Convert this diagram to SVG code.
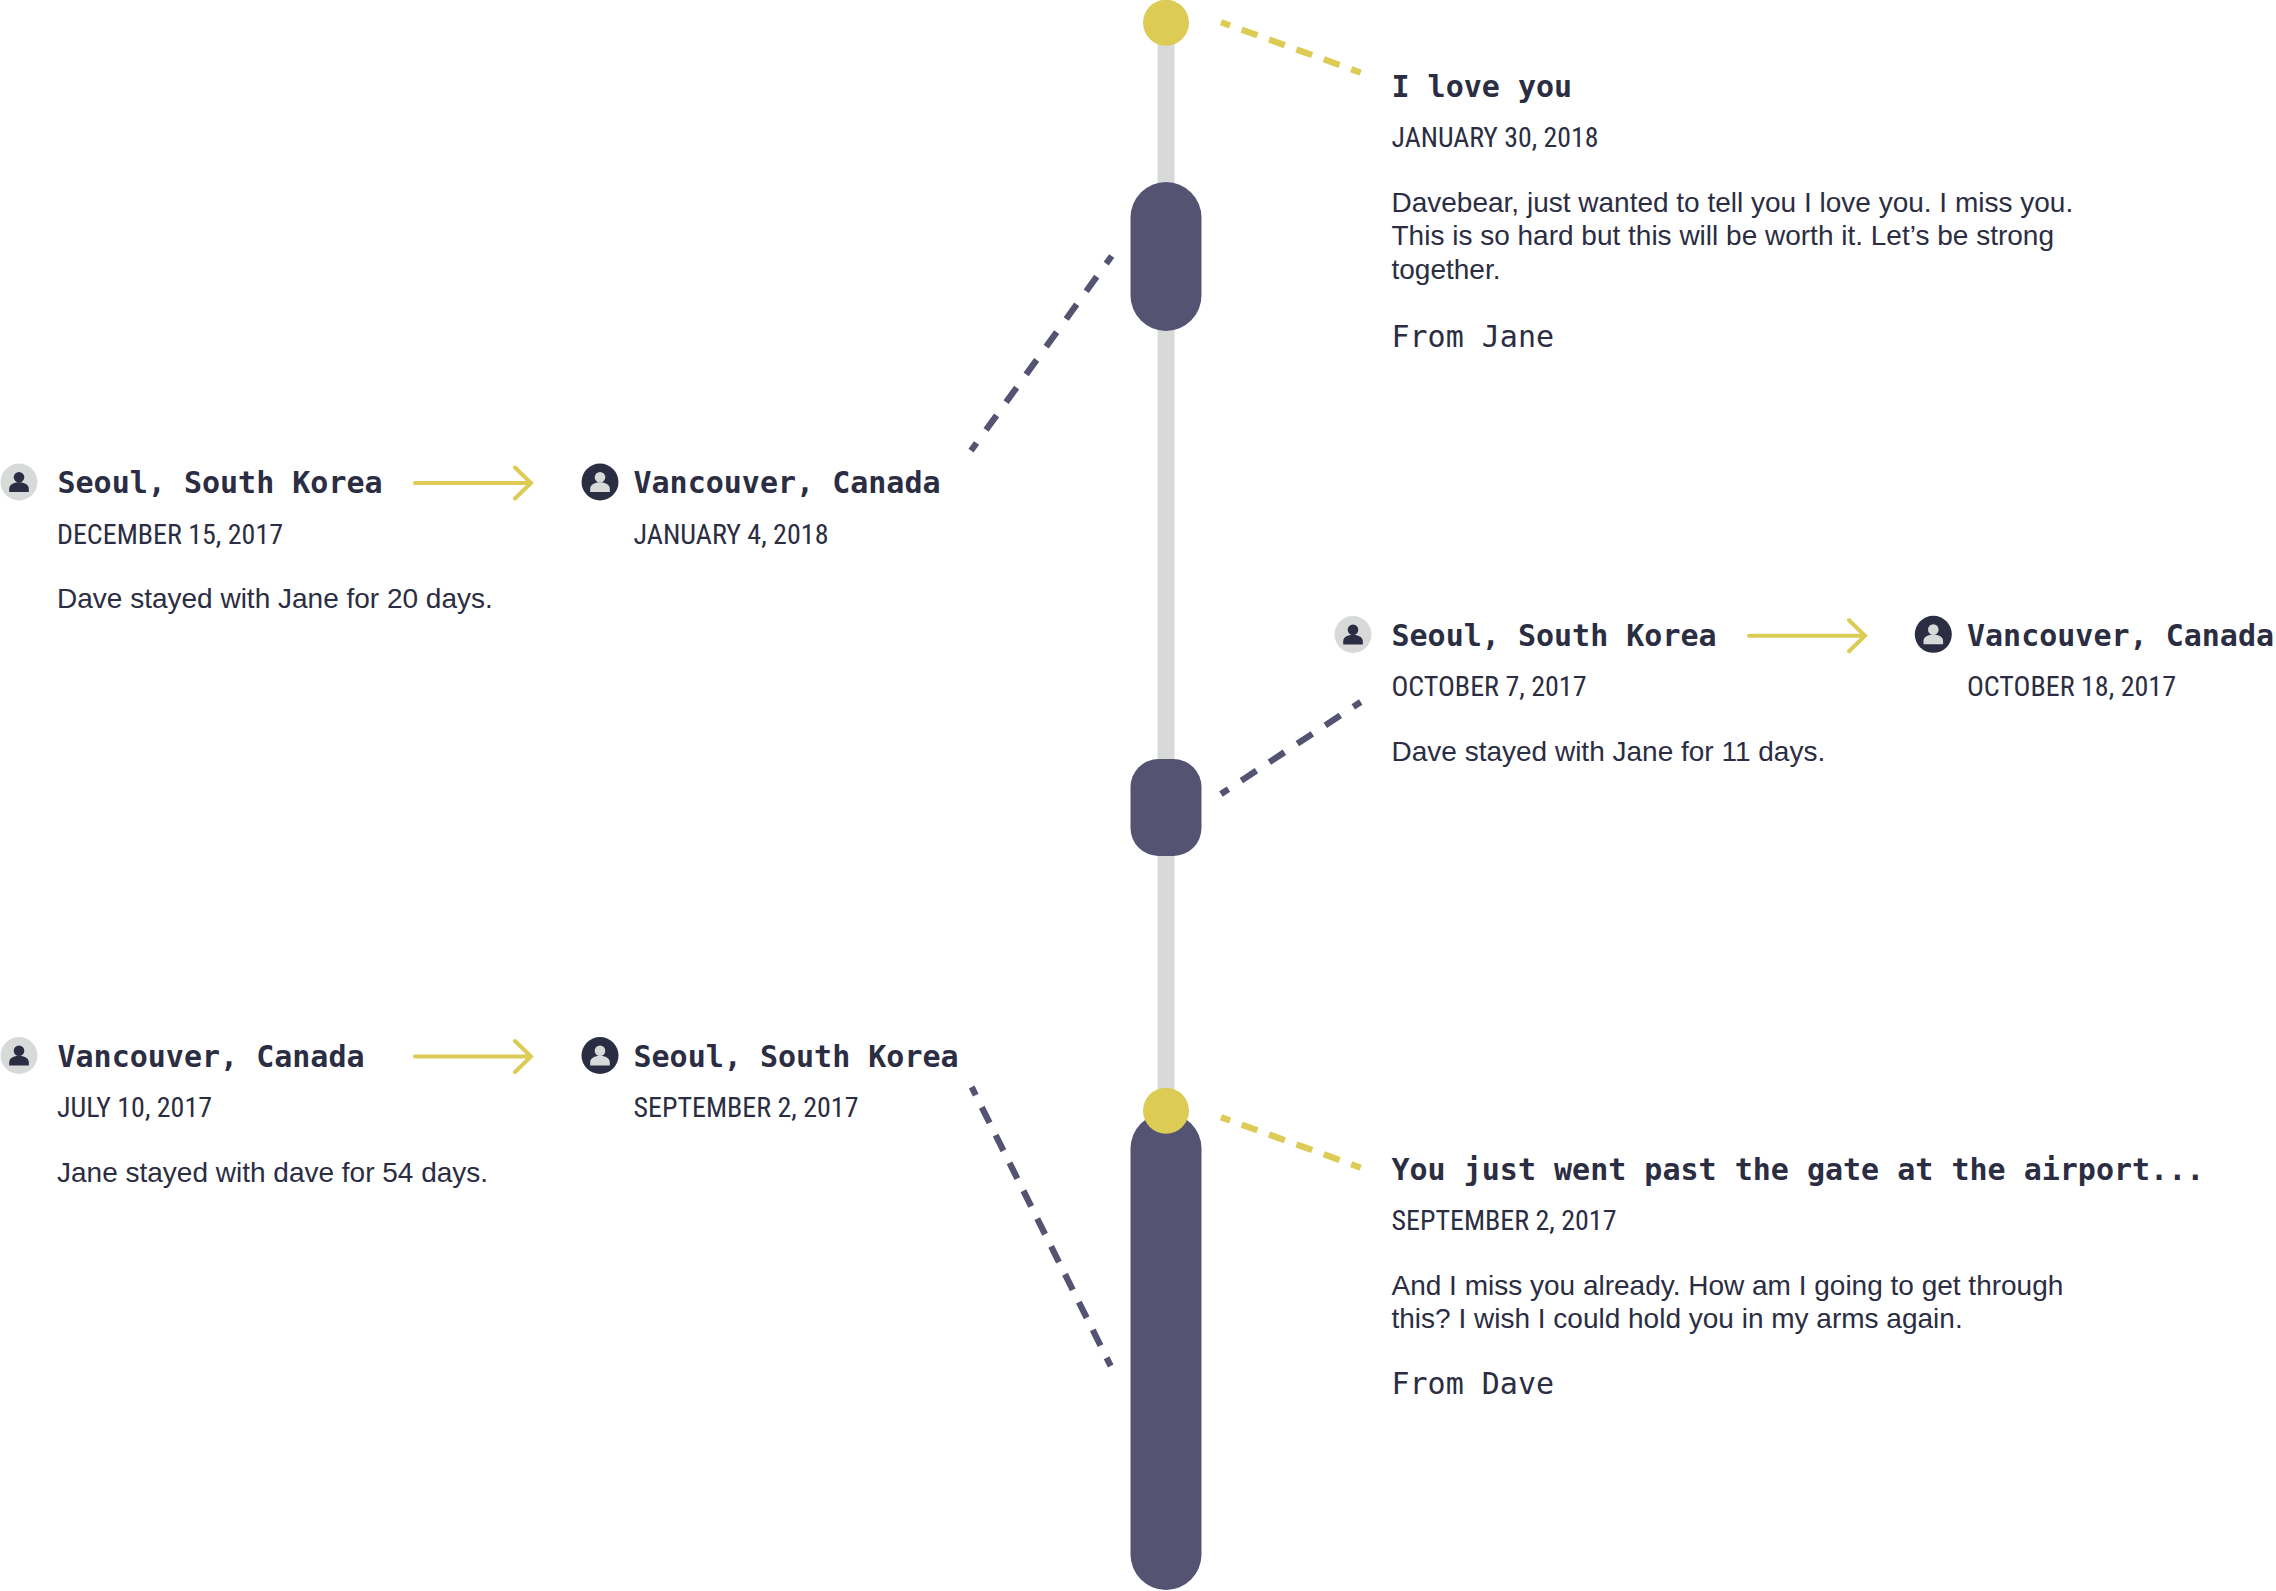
<svg xmlns="http://www.w3.org/2000/svg" width="2276" height="1591" viewBox="0 0 2276 1591">
<style>
text{fill:#2b2d42}
.t{font:700 30px "DejaVu Sans Mono",monospace}
.d{font:400 27px "Roboto Condensed",Roboto,sans-serif}
.b{font:400 28px "Liberation Sans",Arial,sans-serif}
.f{font:400 30px "DejaVu Sans Mono",monospace}
.rail{fill:#d8dad9}
.pill{fill:#545472}
.sun{fill:#dccc55}
.dy{stroke:#dccc55;stroke-width:6.3;fill:none;stroke-dasharray:16.7 12.4;stroke-dashoffset:7.1}
.dp{stroke:#545472;stroke-width:6.3;fill:none}
.ar{stroke:#dccc55;stroke-width:4;fill:none;stroke-linecap:round;stroke-miterlimit:10}
.cl{fill:#d8dad9}.cd{fill:#2b2d42}
.il{fill:#2b2d42}.id{fill:#d8dad9}
</style>
<defs>
<g id="person"><circle cx="0" cy="-4.7" r="5.3"/><path d="M-9.8 10V6.8C-9.8 2.5-5 .3 0 .3S9.8 2.5 9.8 6.8V10Z"/></g>
<g id="arrow"><path class="ar" d="M1 0H117M101-15.5L117 0L101 15.5"/></g>
</defs>
<g id="timeline">
<rect class="rail" x="1157.5" y="20" width="17" height="1100"/>
<rect class="pill" x="1130.5" y="182" width="71" height="149" rx="35.5"/>
<rect class="pill" x="1130.5" y="759" width="71" height="97" rx="28"/>
<rect class="pill" x="1130.5" y="1113" width="71" height="477" rx="35.5"/>
<circle class="sun" cx="1166" cy="22.7" r="23"/>
<circle class="sun" cx="1166" cy="1110.7" r="23"/>
</g>
<g id="connectors">
<path class="dy" d="M1221 22.2L1360.7 72.6"/>
<path class="dy" d="M1221 1117.2L1360.7 1167.6"/>
<path class="dp" stroke-dasharray="18 16.2" stroke-dashoffset="8.5" d="M971 450.7L1111.7 256"/>
<path class="dp" stroke-dasharray="18 15.5" stroke-dashoffset="9.1" d="M1221 794L1360.7 702"/>
<path class="dp" stroke-dasharray="17.5 13.6" stroke-dashoffset="8.5" d="M971.7 1087L1110.7 1366"/>
<use href="#arrow" x="414" y="483"/>
<use href="#arrow" x="1748" y="635.7"/>
<use href="#arrow" x="414" y="1056.5"/>
</g>
<g id="note-love">
<text class="t" x="1391.5" y="97">I love you</text>
<text class="d" x="1391.5" y="146.7" textLength="207" lengthAdjust="spacingAndGlyphs">JANUARY 30, 2018</text>
<text class="b" x="1391.5" y="212">Davebear, just wanted to tell you I love you. I miss you.</text>
<text class="b" x="1391.5" y="245.3">This is so hard but this will be worth it. Let’s be strong</text>
<text class="b" x="1391.5" y="278.6">together.</text>
<text class="f" x="1391.5" y="347">From Jane</text>
</g>
<g id="trip-dec">
<circle class="cl" cx="19" cy="482" r="18.5"/><use href="#person" class="il" x="19" y="482"/>
<text class="t" x="57.5" y="493">Seoul, South Korea</text>
<text class="d" x="57" y="544" textLength="226" lengthAdjust="spacingAndGlyphs">DECEMBER 15, 2017</text>
<text class="b" x="57" y="608">Dave stayed with Jane for 20 days.</text>
</g>
<g id="trip-jan">
<circle class="cd" cx="600" cy="482" r="18.5"/><use href="#person" class="id" x="600" y="482"/>
<text class="t" x="633.5" y="493">Vancouver, Canada</text>
<text class="d" x="633.5" y="544" textLength="195" lengthAdjust="spacingAndGlyphs">JANUARY 4, 2018</text>
</g>
<g id="trip-oct">
<circle class="cl" cx="1353" cy="634.5" r="18.5"/><use href="#person" class="il" x="1353" y="634.5"/>
<text class="t" x="1391.5" y="646">Seoul, South Korea</text>
<text class="d" x="1391.5" y="696" textLength="195" lengthAdjust="spacingAndGlyphs">OCTOBER 7, 2017</text>
<text class="b" x="1391.5" y="761">Dave stayed with Jane for 11 days.</text>
</g>
<g id="trip-oct-b">
<circle class="cd" cx="1933.3" cy="634.3" r="18.5"/><use href="#person" class="id" x="1933.3" y="634.3"/>
<text class="t" x="1967" y="646">Vancouver, Canada</text>
<text class="d" x="1967" y="696" textLength="209" lengthAdjust="spacingAndGlyphs">OCTOBER 18, 2017</text>
</g>
<g id="trip-jul">
<circle class="cl" cx="19" cy="1055.5" r="18.5"/><use href="#person" class="il" x="19" y="1055.5"/>
<text class="t" x="57.5" y="1066.5">Vancouver, Canada</text>
<text class="d" x="57" y="1117" textLength="155" lengthAdjust="spacingAndGlyphs">JULY 10, 2017</text>
<text class="b" x="57" y="1181.5">Jane stayed with dave for 54 days.</text>
</g>
<g id="trip-sep">
<circle class="cd" cx="600" cy="1055.5" r="18.5"/><use href="#person" class="id" x="600" y="1055.5"/>
<text class="t" x="633.5" y="1066.5">Seoul, South Korea</text>
<text class="d" x="633.5" y="1117" textLength="225" lengthAdjust="spacingAndGlyphs">SEPTEMBER 2, 2017</text>
</g>
<g id="note-gate">
<text class="t" x="1391.5" y="1180">You just went past the gate at the airport...</text>
<text class="d" x="1391.5" y="1230" textLength="225" lengthAdjust="spacingAndGlyphs">SEPTEMBER 2, 2017</text>
<text class="b" x="1391.5" y="1295">And I miss you already. How am I going to get through</text>
<text class="b" x="1391.5" y="1328.3">this? I wish I could hold you in my arms again.</text>
<text class="f" x="1391.5" y="1394">From Dave</text>
</g>
</svg>
